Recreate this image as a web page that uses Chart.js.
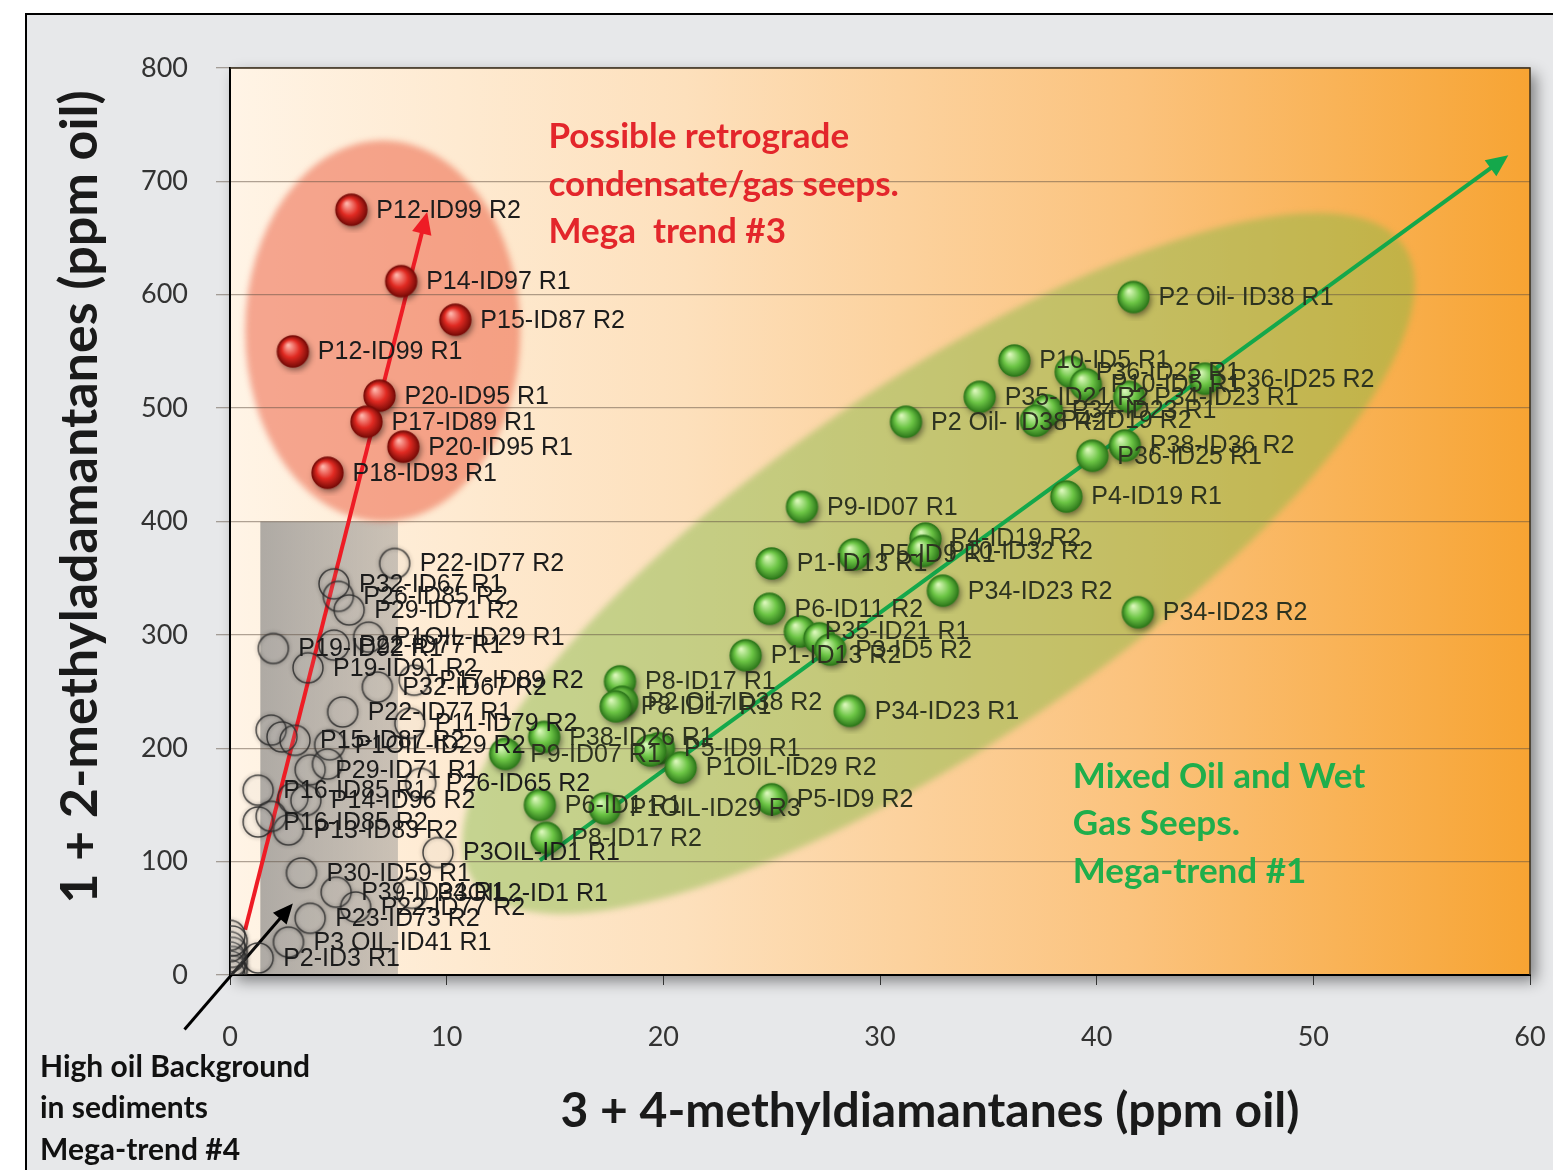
<!DOCTYPE html>
<html>
<head>
<meta charset="utf-8">
<script src="https://cdn.jsdelivr.net/npm/chart.js@4.4.0/dist/chart.umd.min.js"></script>
<style>
    html, body { margin: 0; padding: 0; background: #fff; }
    #frame { position: absolute; left: 25px; top: 13px; width: 1528px; height: 1157px; background: #e7e8ea; border-left: 2px solid #000; border-top: 2px solid #000; box-sizing: border-box; }
    #wrap { position: absolute; left: 0; top: 0; width: 1553px; height: 1170px; }
</style>
</head>
<body>
<div id="frame"></div>
<div id="wrap"><canvas id="chart" width="1553" height="1170"></canvas></div>
<script>
// red trend (mega trend #3)
let redX = [5.6, 7.9, 10.4, 2.9, 6.9, 6.3, 8.0, 4.5];
let redY = [675, 612, 578, 550, 511, 488, 466, 443];
let redNames = ["P12-ID99 R2", "P14-ID97 R1", "P15-ID87 R2", "P12-ID99 R1", "P20-ID95 R1", "P17-ID89 R1", "P20-ID95 R1", "P18-ID93 R1"];

// green trend (mega trend #1)
let greenX = [41.7, 36.2, 38.8, 39.5, 34.6, 45.0, 41.5, 37.7, 37.2, 31.2, 41.3, 39.8, 38.6, 26.4, 32.1, 32.0, 28.8, 25.0, 32.9, 41.9,
    24.9, 26.3, 27.2, 27.7, 23.8, 18.0, 18.1, 17.8, 28.6, 14.5, 12.7, 19.8, 19.4, 20.8, 25.0, 14.3, 17.3, 14.6];
let greenY = [598, 542, 532, 521, 510, 526, 510, 498, 489, 488, 467, 458, 422, 413, 385, 374, 371, 363, 339, 320,
    323, 303, 297, 287, 282, 259, 241, 237, 233, 210, 195, 200, 198, 183, 155, 150, 147, 121];
let greenNames = ["P2 Oil- ID38 R1", "P10-ID5 R1", "P36-ID25 R1", "P10-ID5 R1", "P35-ID21 R2", "P36-ID25 R2", "P34-ID23 R1", "P34-ID23 R1",
    "P4-ID19 R2", "P2 Oil- ID38 R2", "P38-ID36 R2", "P36-ID25 R1", "P4-ID19 R1", "P9-ID07 R1", "P4-ID19 R2", "P10-ID32 R2",
    "P5-ID9 R1", "P1-ID13 R1", "P34-ID23 R2", "P34-ID23 R2", "P6-ID11 R2", "P35-ID21 R1", "", "P3-ID5 R2", "P1-ID13 R2",
    "P8-ID17 R1", "P2 Oil- ID38 R2", "P8-ID17 R1", "P34-ID23 R1", "P38-ID26 R1", "P9-ID07 R1", "P5-ID9 R1", "",
    "P1OIL-ID29 R2", "P5-ID9 R2", "P6-ID1 R1", "P1OIL-ID29 R3", "P8-ID17 R2"];

// grey background samples (mega trend #4)
let greyX = [7.6, 4.8, 5.0, 5.5, 6.4, 2.0, 4.8, 3.6, 8.5, 6.8, 5.2, 8.3, 1.9, 2.4, 3.0, 4.6, 3.7, 4.5, 8.8, 1.3,
    2.9, 3.5, 1.3, 2.7, 1.9, 9.6, 3.3, 4.9, 8.4, 5.8, 3.7, 2.7, 1.3,
    0.0, 0.1, 0.0, 0.1, 0.0, 0.1, 0.0, 0.1, 0.0];
let greyY = [363, 345, 334, 322, 298, 288, 291, 271, 260, 254, 232, 222, 216, 210, 207, 203, 181, 186, 169, 163,
    156, 154, 135, 128, 140, 108, 90, 73, 72, 60, 50, 29, 15,
    0, 4, 8, 12, 16, 20, 25, 30, 35];
let greyNames = ["P22-ID77 R2", "P32-ID67 R1", "P26-ID85 R2", "P29-ID71 R2", "P1OIL-ID29 R1", "P19-ID92 R1", "P22-ID77 R1",
    "P19-ID91 R2", "P17-ID89 R2", "P32-ID67 R2", "P22-ID77 R1", "P11-ID79 R2", "", "", "P15-ID87 R2", "P1OIL-ID29 R2",
    "P29-ID71 R1", "", "P26-ID65 R2", "P16-ID85 R1", "", "P14-ID96 R2", "P16-ID85 R2", "P13-ID83 R2", "", "P3OIL-ID1 R1",
    "P30-ID59 R1", "P39-ID34 R1", "P3OIL2-ID1 R1", "P22-ID77 R2", "P23-ID73 R2", "P3 OIL-ID41 R1", "P2-ID3 R1",
    "", "", "", "", "", "", "", "", ""];

let xTicksMax = 60;
let yTicksMax = 800;

function toPoints(xs, ys) {
    return xs.map((x, i) => ({ x: x, y: ys[i] }));
}

function makeBall(light, mid, dark, r) {
    let size = r * 2 + 16;
    let c = document.createElement("canvas");
    c.width = size;
    c.height = size;
    let g = c.getContext("2d");
    let cx = size / 2, cy = size / 2;
    g.shadowColor = "rgba(0,0,0,0.5)";
    g.shadowBlur = 6;
    g.shadowOffsetX = 2;
    g.shadowOffsetY = 3;
    let grad = g.createRadialGradient(cx - r * 0.3, cy - r * 0.4, r * 0.05, cx, cy, r);
    grad.addColorStop(0, light);
    grad.addColorStop(0.55, mid);
    grad.addColorStop(1, dark);
    g.fillStyle = grad;
    g.beginPath();
    g.arc(cx, cy, r, 0, Math.PI * 2);
    g.fill();
    g.shadowColor = "transparent";
    g.lineWidth = 1.3;
    g.strokeStyle = dark;
    g.stroke();
    return c;
}

function makeRing(r) {
    let size = r * 2 + 16;
    let c = document.createElement("canvas");
    c.width = size;
    c.height = size;
    let g = c.getContext("2d");
    g.shadowColor = "rgba(0,0,0,0.45)";
    g.shadowBlur = 4;
    g.lineWidth = 1.5;
    g.strokeStyle = "rgba(45,45,45,0.85)";
    g.fillStyle = "rgba(255,255,255,0.06)";
    g.beginPath();
    g.arc(size / 2, size / 2, r, 0, Math.PI * 2);
    g.fill();
    g.stroke();
    return c;
}

let greenBall = makeBall("#d9f7b8", "#6cc545", "#2f7a1c", 15.5);
let redBall = makeBall("#ffb3a8", "#e02a22", "#7c0c08", 15.5);
let greyRing = makeRing(15);

function drawArrow(ctx, x1, y1, x2, y2, color, width, head) {
    let ang = Math.atan2(y2 - y1, x2 - x1);
    ctx.save();
    ctx.strokeStyle = color;
    ctx.fillStyle = color;
    ctx.lineWidth = width;
    ctx.beginPath();
    ctx.moveTo(x1, y1);
    ctx.lineTo(x2 - Math.cos(ang) * head * 0.8, y2 - Math.sin(ang) * head * 0.8);
    ctx.stroke();
    ctx.beginPath();
    ctx.moveTo(x2, y2);
    ctx.lineTo(x2 - head * Math.cos(ang) + head * 0.45 * Math.sin(ang), y2 - head * Math.sin(ang) - head * 0.45 * Math.cos(ang));
    ctx.lineTo(x2 - head * Math.cos(ang) - head * 0.45 * Math.sin(ang), y2 - head * Math.sin(ang) + head * 0.45 * Math.cos(ang));
    ctx.closePath();
    ctx.fill();
    ctx.restore();
}

// backdrop: panel gradient, shadow, grey box and the two trend ellipses
let backdrop = {
    id: "backdrop",
    beforeDraw(chart) {
        let ctx = chart.ctx;
        let a = chart.chartArea;
        let xs = chart.scales.x, ys = chart.scales.y;
        ctx.save();
        ctx.shadowColor = "rgba(0,0,0,0.45)";
        ctx.shadowBlur = 14;
        ctx.shadowOffsetX = 6;
        ctx.shadowOffsetY = 6;
        let bg = ctx.createLinearGradient(a.left, 0, a.right, 0);
        bg.addColorStop(0, "#fff4e6");
        bg.addColorStop(0.35, "#fde0bc");
        bg.addColorStop(0.7, "#fbc27c");
        bg.addColorStop(1, "#f7a433");
        ctx.fillStyle = bg;
        ctx.fillRect(a.left, a.top, a.right - a.left, a.bottom - a.top);
        ctx.restore();

        ctx.save();
        ctx.beginPath();
        ctx.rect(a.left, a.top, a.right - a.left, a.bottom - a.top);
        ctx.clip();

        // grey box of background samples
        let gx1 = xs.getPixelForValue(1.4), gx2 = xs.getPixelForValue(7.75);
        let gy1 = ys.getPixelForValue(400), gy2 = ys.getPixelForValue(0);
        let gg = ctx.createLinearGradient(gx1, 0, gx2, 0);
        gg.addColorStop(0, "rgba(125,125,125,0.62)");
        gg.addColorStop(1, "rgba(140,140,140,0.45)");
        ctx.fillStyle = gg;
        ctx.fillRect(gx1, gy1, gx2 - gx1, gy2 - gy1);

        // red ellipse
        ctx.filter = "blur(3px)";
        ctx.fillStyle = "rgba(236,88,58,0.5)";
        ctx.beginPath();
        ctx.ellipse(xs.getPixelForValue(7.05), ys.getPixelForValue(568),
            xs.getPixelForValue(6.35) - xs.getPixelForValue(0), ys.getPixelForValue(400) - ys.getPixelForValue(568),
            0, 0, Math.PI * 2);
        ctx.fill();

        // green ellipse
        let ux = xs.getPixelForValue(1) - xs.getPixelForValue(0);
        ctx.fillStyle = "rgba(128,184,66,0.45)";
        ctx.beginPath();
        ctx.ellipse(xs.getPixelForValue(32.7), ys.getPixelForValue(363), 26 * ux, 8.3 * ux, -34.3 * Math.PI / 180, 0, Math.PI * 2);
        ctx.fill();
        ctx.filter = "none";
        ctx.restore();
    },
    beforeDatasetsDraw(chart) {
        let ctx = chart.ctx;
        let xs = chart.scales.x, ys = chart.scales.y;
        let px = (v) => xs.getPixelForValue(v);
        let py = (v) => ys.getPixelForValue(v);
        drawArrow(ctx, px(0.7), py(40), px(9.1), py(673), "#ee1c25", 4, 22);
        drawArrow(ctx, px(14.3), py(101), px(59.0), py(723), "#14a84b", 4, 22);
        drawArrow(ctx, px(-2.1), py(-48), px(2.9), py(63), "#000", 3, 20);
    },
    afterDatasetsDraw(chart) {
        let ctx = chart.ctx;
        let a = chart.chartArea;
        ctx.save();
        ctx.font = "25px 'Liberation Sans', Arial, sans-serif";
        ctx.textAlign = "left";
        ctx.textBaseline = "middle";
        let sets = [[greyNames, "#1c1c1c"], [greenNames, "#2d3320"], [redNames, "#1c1c1c"]];
        sets.forEach((s, di) => {
            let meta = chart.getDatasetMeta(di);
            ctx.fillStyle = s[1];
            meta.data.forEach((el, i) => {
                if (s[0][i]) ctx.fillText(s[0][i], el.x + 25, el.y + 1);
            });
        });

        // plot frame top/right
        ctx.strokeStyle = "#3a2e1c";
        ctx.lineWidth = 1.5;
        ctx.beginPath();
        ctx.moveTo(a.left, a.top);
        ctx.lineTo(a.right, a.top);
        ctx.lineTo(a.right, a.bottom);
        ctx.stroke();

        let xs = chart.scales.x, ys = chart.scales.y;
        ctx.font = "bold 35px Lato, sans-serif";
        ctx.fillStyle = "#e3262b";
        ["Possible retrograde", "condensate/gas seeps.", "Mega  trend #3"].forEach((t, i) => {
            ctx.fillText(t, xs.getPixelForValue(14.7), ys.getPixelForValue(739) + i * 47.5);
        });
        ctx.fillStyle = "#1fae4b";
        ["Mixed Oil and Wet", "Gas Seeps.", "Mega-trend #1"].forEach((t, i) => {
            ctx.fillText(t, xs.getPixelForValue(38.9), ys.getPixelForValue(175) + i * 47.5);
        });
        ctx.font = "bold 30px Lato, sans-serif";
        ctx.fillStyle = "#111";
        ["High oil Background", "in sediments", "Mega-trend #4"].forEach((t, i) => {
            ctx.fillText(t, 40, 1067 + i * 41.5);
        });

        // axis titles
        ctx.font = "bold 48px Lato, sans-serif";
        ctx.textAlign = "center";
        ctx.fillStyle = "#1a1a1a";
        ctx.fillText("3 + 4-methyldiamantanes (ppm oil)", 930, 1112);
        ctx.translate(80, 497);
        ctx.rotate(-Math.PI / 2);
        ctx.font = "bold 52px Lato, sans-serif";
        ctx.fillText("1 + 2-methyladamantanes (ppm oil)", 0, 0);
        ctx.restore();
    }
};

function makeChart() {
    let ctx = document.getElementById("chart").getContext("2d");
    new Chart(ctx, {
        type: "scatter",
        data: {
            datasets: [{
                label: "Background",
                data: toPoints(greyX, greyY),
                pointStyle: greyRing,
                radius: 15
            }, {
                label: "Mega-trend #1",
                data: toPoints(greenX, greenY),
                pointStyle: greenBall,
                radius: 15
            }, {
                label: "Mega trend #3",
                data: toPoints(redX, redY),
                pointStyle: redBall,
                radius: 15
            }]
        },
        options: {
            responsive: false,
            animation: false,
            layout: { padding: { left: 0, top: 68, right: 23, bottom: 0 } },
            plugins: { legend: { display: false }, tooltip: { enabled: false } },
            scales: {
                x: {
                    min: 0,
                    max: xTicksMax,
                    afterFit: (s) => { s.height = 195; s.paddingLeft = 0; s.paddingRight = 0; },
                    ticks: { stepSize: 10, padding: 36, color: "#333", font: { family: "Lato", size: 27 } },
                    grid: { drawOnChartArea: false, drawTicks: true, tickLength: 10, color: "#333" },
                    border: { display: true, color: "#000", width: 2 }
                },
                y: {
                    min: 0,
                    max: yTicksMax,
                    afterFit: (s) => { s.width = 230; s.paddingTop = 0; s.paddingBottom = 0; },
                    ticks: { stepSize: 100, padding: 28, color: "#333", font: { family: "Lato", size: 27 } },
                    grid: { drawTicks: true, tickLength: 14, color: "rgba(95,80,65,0.5)", lineWidth: 1.3 },
                    border: { display: true, color: "#000", width: 2 }
                }
            }
        },
        plugins: [backdrop]
    });
}
makeChart();
</script>
</body>
</html>
